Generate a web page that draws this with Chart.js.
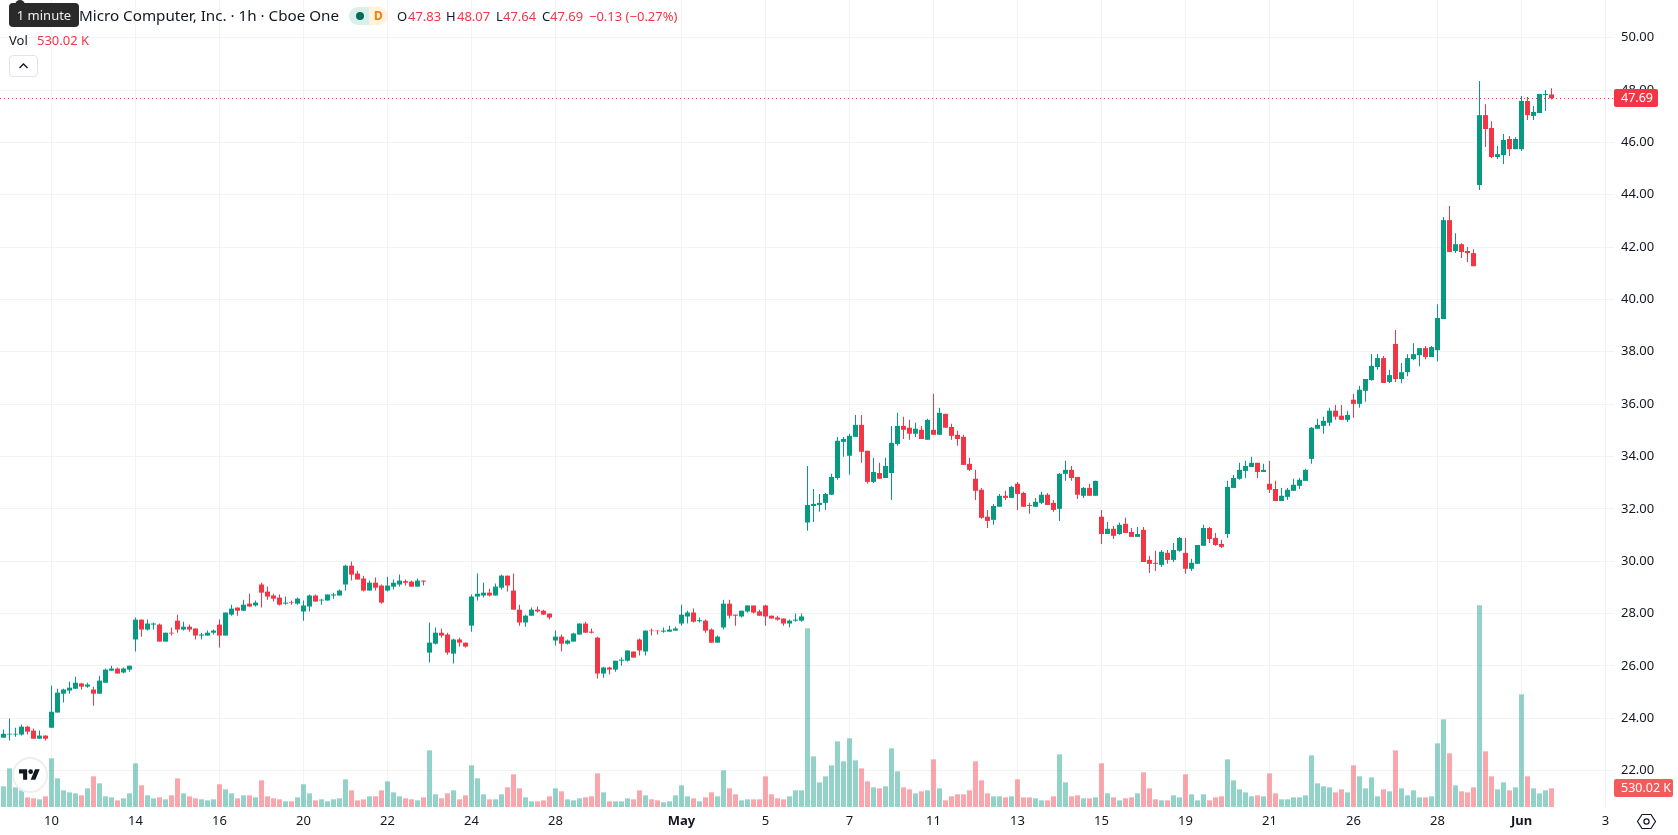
<!DOCTYPE html>
<html>
<head>
<meta charset="utf-8">
<title>Super Micro Computer, Inc. 1h</title>
<script src="https://cdn.jsdelivr.net/npm/chart.js"></script>
<style>
    html, body { margin: 0; padding: 0; background: #fff; overflow: hidden; }
    body { width: 1678px; height: 835px; position: relative; font-family: "Noto Sans", sans-serif; color: #131722; }
    canvas { position: absolute; left: 0; top: 0; }
    .txt { position: absolute; white-space: nowrap; font-size: 13px; line-height: 18px; }
    .down { color: #f23645; }
    #hint { position: absolute; left: 9px; top: 3px; width: 70px; height: 24px; background: #2a2a2a; border-radius: 4px; color: #eee; font-size: 13px; line-height: 24px; text-align: center; }
    #hint:before { content: ""; position: absolute; left: 6px; top: -3px; width: 10px; height: 6px; border-radius: 5px 5px 0 0; background: #2a2a2a; }
    #pill { position: absolute; left: 349px; top: 7px; width: 39px; height: 18px; border-radius: 9px; overflow: hidden; }
    #pill .l { position: absolute; left: 0; top: 0; width: 20px; height: 18px; background: #d9efea; }
    #pill .r { position: absolute; left: 20px; top: 0; width: 19px; height: 18px; background: #fff3e0; color: #f57c00; font-size: 12px; font-weight: 700; line-height: 18px; text-align: center; }
    #pill .dot { position: absolute; left: 7px; top: 5px; width: 8px; height: 8px; border-radius: 50%; background: #006d5b; }
    #toggle { position: absolute; left: 9px; top: 55px; width: 27px; height: 20px; border: 1px solid #e0e3eb; border-radius: 4px; background: #fff; }
    #logo { position: absolute; left: 13px; top: 758px; width: 32px; height: 32px; border: 2px solid #efefef; border-radius: 50%; background: #fff; box-sizing: content-box; margin: -1px; }
</style>
</head>
<body>
<canvas id="priceChart" width="1678" height="835"></canvas>

<div class="txt" style="left:79px;top:6px;font-size:15.2px">Micro Computer, Inc. · 1h · Cboe One</div>
<div id="pill"><div class="l"></div><div class="dot"></div><div class="r">D</div></div>
<div class="txt" style="left:397px;top:7px">O</div><div class="txt down" style="left:408px;top:7px">47.83</div>
<div class="txt" style="left:446px;top:7px">H</div><div class="txt down" style="left:457px;top:7px">48.07</div>
<div class="txt" style="left:496px;top:7px">L</div><div class="txt down" style="left:503px;top:7px">47.64</div>
<div class="txt" style="left:542px;top:7px">C</div><div class="txt down" style="left:550px;top:7px">47.69</div>
<div class="txt down" style="left:589px;top:7px">−0.13 (−0.27%)</div>
<div class="txt" style="left:9px;top:31px">Vol</div>
<div class="txt down" style="left:37px;top:31px">530.02 K</div>
<div id="hint">1 minute</div>
<div id="toggle">
    <svg width="27" height="20" viewBox="0 0 27 20"><path d="M9.5 12 L13.5 8 L17.5 12" fill="none" stroke="#131722" stroke-width="1.4"/></svg>
</div>
<div id="logo">
    <svg style="position:absolute;left:5px;top:8px" width="21" height="16.3" viewBox="0 0 36 28"><path d="M14 22H7V11H0V4h14v18zM28 22h-8l7.5-18h8L28 22z" fill="#131722"/><circle cx="20" cy="8" r="4" fill="#131722"/></svg>
</div>
<svg style="position:absolute;left:1636px;top:811px" width="21" height="21" viewBox="0 0 21 21">
    <path d="M6 3.5 H15 L19.5 10.5 L15 17.5 H6 L1.5 10.5 Z" fill="none" stroke="#131722" stroke-width="1.2"/>
    <circle cx="10.5" cy="10.5" r="2.6" fill="none" stroke="#131722" stroke-width="1.2"/>
</svg>

<script>
// hourly candles, one entry per bar
var opens = [
    23.26,23.38,23.38,23.38,23.68,23.53,23.22,23.34,23.64,24.22,
    24.94,25.06,25.13,25.33,25.21,25.10,24.94,25.36,25.82,25.90,
    25.75,25.86,27.01,27.77,27.39,27.58,27.58,26.93,27.27,27.73,
    27.39,27.50,27.43,27.16,27.16,27.27,27.58,27.16,27.96,28.23,
    28.11,28.38,28.31,29.11,28.84,28.69,28.61,28.38,28.43,28.38,
    28.08,28.27,28.69,28.50,28.50,28.69,28.69,29.11,29.83,29.53,
    29.34,28.88,29.18,29.07,28.88,29.03,29.11,29.24,29.22,29.03,
    29.26,26.51,26.85,27.27,27.20,26.47,27.01,26.89,27.54,28.65,
    28.69,28.80,28.69,28.99,29.45,28.88,28.15,27.66,27.92,28.15,
    28.11,28.00,26.97,27.12,26.85,26.93,27.20,27.62,27.31,27.08,
    25.71,25.94,25.86,26.20,26.20,26.55,27.01,26.55,27.35,27.35,
    27.31,27.31,27.35,27.62,27.89,28.04,27.71,27.73,27.39,26.89,
    27.47,28.38,27.96,27.89,28.08,28.31,28.08,28.31,27.92,27.85,
    27.81,27.62,27.73,27.73,31.48,32.11,32.15,32.23,32.54,33.18,
    34.56,34.03,34.75,35.21,34.22,33.03,33.37,33.18,33.37,34.48,
    35.17,35.10,34.87,35.02,34.64,35.02,34.83,35.63,35.13,34.83,
    34.75,33.72,33.15,32.73,31.70,31.58,32.08,32.50,32.42,32.96,
    32.61,32.15,32.08,32.23,32.54,32.23,32.00,33.34,33.49,33.22,
    32.50,32.80,32.50,31.70,31.04,31.24,31.04,31.43,31.12,30.93,
    31.20,30.05,29.94,29.86,30.32,30.05,30.40,30.32,29.71,29.90,
    30.59,31.27,30.89,30.66,31.04,32.80,33.15,33.45,33.60,33.76,
    33.41,32.96,32.76,32.30,32.46,32.69,32.88,33.07,33.91,35.06,
    35.17,35.29,35.75,35.56,35.40,36.17,36.01,36.51,36.92,37.42,
    37.76,36.85,38.30,36.96,37.22,37.72,37.87,38.14,37.80,38.06,
    39.25,43.03,41.85,42.11,41.85,41.77,44.37,47.04,46.55,45.44,
    45.51,46.13,45.74,45.74,47.58,47.01,47.12,47.81,47.83
];
var highs = [
    23.57,23.99,23.64,23.76,23.72,23.61,23.53,23.34,25.25,25.13,
    25.13,25.40,25.59,25.36,25.36,25.21,25.63,25.90,26.01,25.94,
    25.94,26.01,27.85,27.77,27.77,27.66,27.62,27.27,27.47,27.96,
    27.69,27.58,27.43,27.27,27.35,27.39,27.77,28.04,28.34,28.23,
    28.53,28.76,28.50,29.18,29.03,28.76,28.73,28.65,28.50,28.61,
    28.50,28.73,28.73,28.57,28.73,28.80,28.92,29.87,29.99,29.64,
    29.45,29.26,29.38,29.11,29.41,29.30,29.49,29.30,29.26,29.34,
    29.26,27.66,27.47,27.43,27.27,27.05,27.08,26.89,28.73,29.53,
    29.18,28.95,29.15,29.49,29.45,29.53,28.34,27.96,28.23,28.27,
    28.15,28.00,27.35,27.20,27.01,27.27,27.62,27.69,27.43,27.12,
    25.97,25.97,26.20,26.32,26.59,26.55,27.05,27.35,27.43,27.35,
    27.47,27.54,27.50,28.34,28.11,28.19,27.85,27.77,27.43,27.16,
    28.53,28.53,27.96,28.11,28.31,28.31,28.15,28.34,27.92,27.92,
    27.81,27.77,28.00,28.00,33.64,32.76,32.57,32.61,33.34,34.75,
    34.75,34.87,35.59,35.59,34.22,33.95,33.76,33.95,35.17,35.67,
    35.52,35.40,35.29,35.17,35.44,36.40,35.86,35.63,35.25,34.98,
    34.83,33.95,33.49,32.80,31.96,32.19,32.57,32.69,32.88,33.03,
    32.65,32.23,32.42,32.65,32.61,32.34,33.37,33.84,33.64,33.22,
    32.84,32.96,33.07,31.96,31.50,31.35,31.48,31.66,31.27,31.31,
    31.31,30.20,30.40,30.43,30.43,30.70,30.93,30.89,30.09,30.62,
    31.39,31.31,31.08,30.82,33.07,33.30,33.76,33.84,33.99,33.76,
    33.72,33.84,33.07,32.80,32.80,33.15,33.18,33.53,35.13,35.44,
    35.52,35.86,35.97,35.97,35.75,36.40,36.70,36.96,37.92,37.92,
    37.84,37.31,38.83,37.57,37.91,38.33,38.14,38.22,38.22,39.82,
    43.15,43.57,42.53,42.15,42.00,41.92,48.34,47.46,46.81,45.86,
    46.32,46.24,46.20,47.77,47.73,47.39,47.85,48.00,48.07
];
var lows = [
    23.26,23.15,23.30,23.34,23.38,23.22,23.22,23.15,23.64,24.22,
    24.60,24.94,25.13,25.10,25.17,24.48,24.94,25.36,25.82,25.71,
    25.71,25.78,26.55,27.12,27.35,27.39,26.93,26.93,27.16,27.27,
    27.35,27.31,27.01,27.01,27.16,27.20,26.70,27.16,27.92,27.92,
    28.11,28.27,28.27,28.23,28.53,28.46,28.31,28.34,28.34,28.34,
    27.73,28.08,28.46,28.34,28.50,28.57,28.69,28.88,29.26,29.30,
    28.84,28.88,28.88,28.38,28.84,28.92,29.03,29.07,29.03,29.03,
    29.07,26.13,26.82,27.08,26.43,26.09,26.74,26.70,27.31,28.50,
    28.61,28.65,28.69,28.92,28.84,28.15,27.54,27.50,27.92,28.04,
    27.96,27.77,26.78,26.55,26.82,26.93,27.20,27.27,27.24,25.52,
    25.55,25.67,25.78,26.01,26.17,26.32,26.40,26.40,27.16,27.20,
    27.27,27.31,27.35,27.54,27.62,27.66,27.66,27.27,26.89,26.89,
    27.39,27.81,27.54,27.85,28.04,28.00,27.92,27.54,27.81,27.73,
    27.54,27.47,27.69,27.69,31.16,31.50,31.89,31.96,32.54,33.11,
    33.99,33.30,34.75,33.76,32.96,32.99,33.15,33.18,32.34,34.41,
    34.67,34.64,34.75,34.67,34.64,34.83,34.83,35.10,34.64,34.41,
    33.68,33.45,32.34,31.62,31.27,31.39,32.08,32.34,32.42,31.96,
    32.08,31.81,32.08,32.19,32.15,31.89,31.54,33.07,33.07,32.38,
    32.42,32.50,32.50,30.66,31.04,30.85,31.01,31.08,30.93,30.93,
    29.97,29.55,29.63,29.78,29.90,29.97,30.36,29.52,29.63,29.90,
    30.59,30.70,30.59,30.51,30.89,32.80,33.11,33.18,33.60,33.18,
    33.41,32.61,32.30,32.30,32.34,32.69,32.76,33.07,33.72,35.06,
    34.87,35.17,35.40,35.40,35.32,35.48,35.86,36.09,36.89,37.31,
    36.81,36.81,36.85,36.80,37.07,37.68,37.45,37.72,37.80,37.64,
    39.25,41.81,41.77,41.58,41.43,41.27,44.18,45.82,45.40,45.36,
    45.17,45.48,45.74,45.67,46.85,46.85,47.12,47.20,47.64
];
var closes = [
    23.41,23.41,23.41,23.68,23.49,23.22,23.34,23.22,24.25,24.98,
    25.10,25.17,25.36,25.21,25.29,24.94,25.44,25.86,25.90,25.71,
    25.90,26.01,27.77,27.39,27.62,27.62,26.93,27.27,27.24,27.39,
    27.50,27.39,27.16,27.20,27.27,27.35,27.16,28.04,28.19,28.11,
    28.34,28.27,28.42,28.80,28.65,28.57,28.34,28.42,28.41,28.57,
    28.31,28.69,28.46,28.53,28.73,28.73,28.88,29.83,29.49,29.30,
    28.88,29.18,28.99,28.42,29.07,29.18,29.26,29.18,29.03,29.26,
    29.22,26.89,27.27,27.16,26.51,27.01,26.89,26.74,28.65,28.76,
    28.80,28.69,29.03,29.45,29.07,28.15,27.66,27.92,28.15,28.08,
    27.96,27.85,27.12,26.85,26.97,27.24,27.62,27.27,27.27,25.71,
    25.94,25.86,26.20,26.24,26.59,26.32,26.59,27.35,27.33,27.33,
    27.35,27.39,27.43,27.96,28.04,27.69,27.75,27.35,26.89,27.12,
    28.38,27.92,27.92,28.11,28.31,28.04,27.92,27.89,27.81,27.77,
    27.62,27.73,27.77,27.89,32.15,32.19,32.23,32.57,33.22,34.60,
    34.67,34.79,35.21,34.18,33.03,33.41,33.15,33.64,34.52,35.17,
    35.02,34.87,35.06,34.67,35.40,34.83,35.67,35.10,34.79,34.67,
    33.68,33.49,32.69,31.66,31.54,32.11,32.50,32.42,32.84,32.57,
    32.08,32.11,32.27,32.54,32.15,31.96,33.34,33.49,33.18,32.54,
    32.80,32.50,33.07,31.04,31.24,30.97,31.39,31.08,30.93,31.04,
    29.97,29.90,29.90,30.36,30.05,30.43,30.89,29.71,29.94,30.62,
    31.27,30.85,30.62,30.55,32.84,33.18,33.49,33.64,33.76,33.41,
    33.49,32.73,32.30,32.50,32.73,32.92,33.11,33.49,35.10,35.21,
    35.36,35.75,35.52,35.40,35.59,36.01,36.55,36.96,37.46,37.76,
    36.81,37.11,36.96,37.22,37.76,37.91,38.14,37.80,38.18,39.29,
    43.03,41.81,42.11,41.81,41.77,41.27,47.04,46.51,45.44,45.55,
    46.09,45.74,46.13,47.58,47.04,47.16,47.85,47.85,47.69
];
// volume in thousands
var volumes = [
    587,1098,558,473,274,246,218,303,1382,814,
    473,416,388,331,530,871,672,303,274,189,
    246,388,1240,615,331,246,274,218,331,814,
    388,303,246,218,189,218,644,502,388,246,
    331,331,274,757,303,246,218,161,161,274,
    644,388,189,218,161,218,246,786,473,189,
    218,303,303,473,729,416,303,246,218,189,
    274,1609,360,246,388,473,218,331,1183,814,
    360,218,218,360,558,928,530,274,161,161,
    189,303,530,445,218,189,246,274,303,956,
    416,161,161,161,246,218,473,331,218,189,
    133,161,331,615,303,246,161,274,416,303,
    1041,530,360,189,218,218,218,871,360,246,
    218,303,473,473,5073,1439,700,871,1183,1865,
    1297,1950,1325,1098,729,558,530,587,1666,1013,
    558,502,388,445,473,1353,530,189,303,360,
    360,473,1297,757,388,303,303,274,303,786,
    274,274,246,189,189,303,1495,700,303,331,
    246,246,274,1240,388,274,189,246,274,388,
    984,530,218,189,189,331,274,928,360,189,
    360,189,274,303,1353,757,502,416,303,331,
    303,956,388,218,218,274,274,331,1467,672,
    587,558,416,502,416,1183,871,530,842,303,
    502,445,1609,530,331,473,274,274,303,1808,
    2489,1524,615,445,416,558,5726,1581,871,502,
    700,473,558,3199,871,530,388,473,530.02
];

// bar number -> date label on the time axis
var dateTickBars = [8,22,36,50,64,78,92,113,127,141,155,169,183,197,211,225,239,253,267];
var dateTickLabels = ["10","14","16","20","22","24","28","May","5","7","11","13","15","19","21","26","28","Jun","3"];
var priceTicks = [22,24,26,28,30,32,34,36,38,40,42,44,46,48,50];

var lastClose = closes[closes.length - 1];
var lastVolume = volumes[volumes.length - 1];

var upColor = "#089981";
var downColor = "#f23645";
var upVolColor = "rgba(8,153,129,0.44)";
var downVolColor = "rgba(242,54,69,0.44)";
var gridColor = "#f3f3f3";
var textColor = "#131722";
var fontName = "'Noto Sans', sans-serif";

var candleColors = closes.map(function(c, i) { return c >= opens[i] ? upColor : downColor; });
var volColors = closes.map(function(c, i) { return c >= opens[i] ? upVolColor : downVolColor; });

var wickData = highs.map(function(h, i) { return { x: i, y: [lows[i], h] }; });
var bodyData = opens.map(function(o, i) { return { x: i, y: [o, closes[i]] }; });
var volData = volumes.map(function(v, i) { return { x: i, y: v }; });

// dotted last price line and the two value tags on the price axis
var lastValuePlugin = {
    id: "lastValue",
    afterDatasetsDraw: function(chart) {
        var ctx = chart.ctx;
        var y = Math.round(chart.scales.y.getPixelForValue(lastClose)) + 0.5;
        ctx.save();
        ctx.strokeStyle = downColor;
        ctx.lineWidth = 1;
        ctx.setLineDash([1, 3]);
        ctx.beginPath();
        ctx.moveTo(chart.chartArea.left, y);
        ctx.lineTo(chart.chartArea.right, y);
        ctx.stroke();
        ctx.restore();
    },
    afterDraw: function(chart) {
        var ctx = chart.ctx;
        var right = chart.chartArea.right;
        drawTag(ctx, right, chart.scales.y.getPixelForValue(lastClose), 44, lastClose.toFixed(2), downColor);
        drawTag(ctx, right, chart.scales.vol.getPixelForValue(lastVolume), 59, lastVolume.toFixed(2) + " K", "#f15b5b");
    }
};

function drawTag(ctx, x, y, w, text, color) {
    ctx.save();
    ctx.fillStyle = color;
    ctx.beginPath();
    ctx.roundRect(x, Math.round(y) - 9, w, 18, 2);
    ctx.fill();
    ctx.fillStyle = "#ffffff";
    ctx.font = "12.5px " + fontName;
    ctx.textAlign = "left";
    ctx.textBaseline = "middle";
    ctx.fillText(text, x + 7, Math.round(y) + 0.5);
    ctx.restore();
}

new Chart(document.getElementById("priceChart"), {
    type: "bar",
    data: {
        datasets: [
            {
                label: "Body",
                data: bodyData,
                yAxisID: "y",
                backgroundColor: candleColors,
                barThickness: 5,
                grouped: false,
                inflateAmount: 0,
                order: 1
            },
            {
                label: "Wick",
                data: wickData,
                yAxisID: "y",
                backgroundColor: candleColors,
                barThickness: 1,
                grouped: false,
                inflateAmount: 0,
                order: 2
            },
            {
                label: "Vol",
                data: volData,
                yAxisID: "vol",
                backgroundColor: volColors,
                barThickness: 5,
                grouped: false,
                inflateAmount: 0,
                order: 3
            }
        ]
    },
    options: {
        responsive: false,
        animation: false,
        layout: { autoPadding: false, padding: 0 },
        plugins: { legend: { display: false }, tooltip: { enabled: false } },
        scales: {
            x: {
                type: "linear",
                offset: false,
                // 6px per bar across the 1614px wide plot
                min: -3.5 / 6,
                max: (1614 - 3.5) / 6,
                afterFit: function(scale) {
                    scale.height = 28;
                    scale.paddingLeft = 0;
                    scale.paddingRight = 0;
                },
                afterBuildTicks: function(scale) {
                    scale.ticks = dateTickBars.map(function(b) { return { value: b }; });
                },
                grid: { color: gridColor, drawTicks: false, offset: false },
                border: { display: false },
                ticks: {
                    autoSkip: false,
                    maxRotation: 0,
                    padding: 6,
                    color: textColor,
                    font: function(c) {
                        var lbl = c.tick ? c.tick.label : "";
                        return { family: fontName, size: 13, weight: (lbl === "May" || lbl === "Jun") ? "bold" : "normal" };
                    },
                    callback: function(v) { return dateTickLabels[dateTickBars.indexOf(v)]; }
                }
            },
            y: {
                position: "right",
                min: 20.612,
                max: 51.438,
                // no room reserved above and below for the outer tick labels
                afterFit: function(scale) {
                    scale.width = 64;
                    scale.paddingTop = 0;
                    scale.paddingBottom = 0;
                },
                afterBuildTicks: function(scale) {
                    scale.ticks = priceTicks.map(function(p) { return { value: p }; });
                },
                grid: { color: gridColor, drawTicks: false },
                border: { display: false },
                ticks: {
                    padding: 7,
                    color: textColor,
                    font: { family: fontName, size: 13 },
                    callback: function(v) { return v.toFixed(2); }
                }
            },
            vol: {
                display: false,
                position: "right",
                min: 0,
                max: 22914,
                grid: { display: false }
            }
        }
    },
    plugins: [lastValuePlugin]
});
</script>
</body>
</html>
